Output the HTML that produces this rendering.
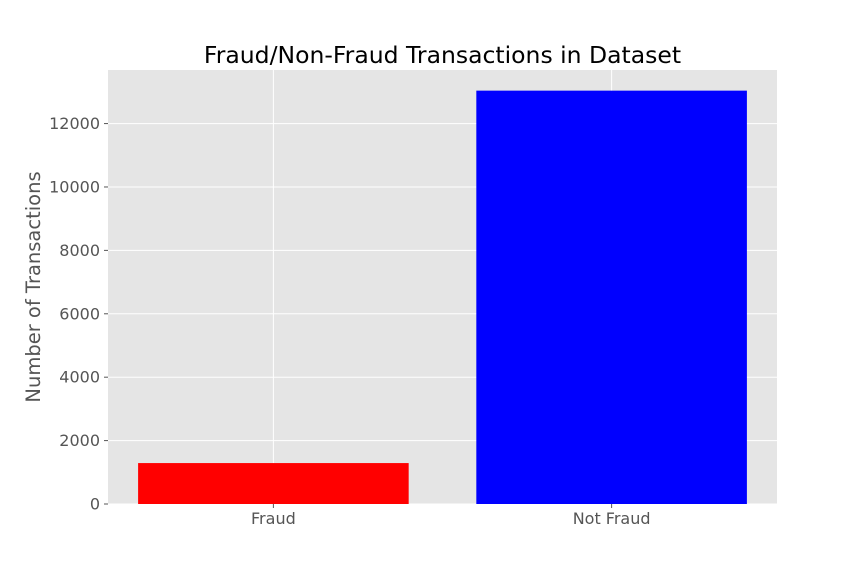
<!DOCTYPE html>
<html><head><meta charset="utf-8"><style>body{margin:0;background:#fff}svg{display:block;font-family:"DejaVu Sans","Liberation Sans",sans-serif}</style></head>
<body>
<svg id="chart" width="864" height="576"></svg>
<script>
const categories = ["Fraud", "Not Fraud"];
const values = [1291, 13039];
const colors = ["#ff0000", "#0000ff"];
const yTicks = [0, 2000, 4000, 6000, 8000, 10000, 12000];
const NS = "http://www.w3.org/2000/svg";
const svg = document.getElementById("chart");
const L=108, R=777, T=70, B=504;
const xmin=-0.489, xmax=1.489, ymax=13690;
const xs = v => L + (v - xmin) / (xmax - xmin) * (R - L);
const ys = v => B - v / ymax * (B - T);
function mk(tag, attrs, parent){const e=document.createElementNS(NS,tag);for(const k in attrs)e.setAttribute(k,attrs[k]);(parent||svg).appendChild(e);return e;}
const bg = mk("rect",{x:L,y:T,width:R-L,height:B-T,fill:"#e5e5e5"});


yTicks.forEach(t=>{
  const g = mk("line",{x1:L,x2:R,y1:ys(t),y2:ys(t),stroke:"#fff","stroke-width":1});
  
  
  const tk = mk("line",{x1:L-4,x2:L,y1:ys(t),y2:ys(t),stroke:"#555","stroke-width":1});
  
  
  const tx = mk("text",{x:L-8,y:ys(t)+5.5,"text-anchor":"end","font-size":16,fill:"#555"});
  tx.textContent=t;
  
  
});
categories.forEach((c,i)=>{
  const g = mk("line",{x1:xs(i),x2:xs(i),y1:T,y2:B,stroke:"#fff","stroke-width":1});
  
  
});
categories.forEach((c,i)=>{
  const b = mk("rect",{x:xs(i-0.4),y:ys(values[i]),width:xs(i+0.4)-xs(i-0.4),height:B-ys(values[i]),fill:colors[i]});
  
  
  const tk = mk("line",{x1:xs(i),x2:xs(i),y1:B,y2:B+4,stroke:"#555","stroke-width":1});
  
  
  const tx = mk("text",{x:xs(i),y:B+20,"text-anchor":"middle","font-size":16,fill:"#555"});
  tx.textContent=c;
  
  
});
const title = mk("text",{x:(L+R)/2,y:63,"text-anchor":"middle","font-size":23.5,fill:"#000"});
title.textContent="Fraud/Non-Fraud Transactions in Dataset";


const yl = mk("text",{x:0,y:0,"text-anchor":"middle","font-size":19.5,fill:"#555",transform:"translate(40,"+((T+B)/2)+") rotate(-90)"});
yl.textContent="Number of Transactions";


</script>
</body></html>
